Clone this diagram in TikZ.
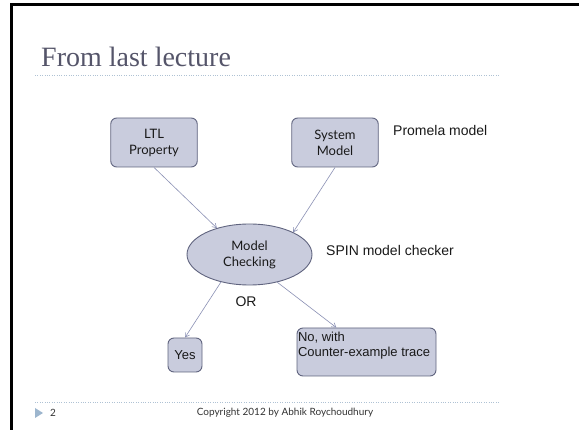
\documentclass[tikz,border=0pt]{standalone}
\usepackage{fontspec}
\setmainfont{Liberation Serif}
\newfontfamily\gill{Lato}
\newfontfamily\arial{Liberation Sans}
\usetikzlibrary{arrows.meta,shapes.geometric}
\definecolor{boxfill}{HTML}{C9CCDD}
\definecolor{boxline}{HTML}{60647F}
\definecolor{linkcol}{HTML}{8A90B4}
\definecolor{rulecol}{HTML}{AFC2D4}
\definecolor{titlecol}{HTML}{55556A}
\definecolor{markcol}{HTML}{9DB6CE}
\tikzset{
  box/.style={draw=boxline, fill=boxfill, line width=0.9pt, rounded corners=6pt,
    inner sep=0pt, align=center, font=\gill\fontsize{13}{16}\selectfont, text=black!90},
  oval/.style={ellipse, draw=boxline, fill=boxfill, line width=0.9pt, inner sep=0pt,
    align=center, font=\gill\fontsize{13}{16}\selectfont, text=black!90},
  note/.style={font=\arial\fontsize{14}{16}\selectfont, text=black!90, inner sep=0pt},
  link/.style={draw=linkcol, line width=0.6pt, -{Straight Barb[length=4pt,width=5pt]}},
  dotrule/.style={draw=rulecol, line width=0.5pt, dash pattern=on 1pt off 1.4pt},
}
\begin{document}
\begin{tikzpicture}[x=1pt,y=-1pt]
\useasboundingbox (0,0) rectangle (579,430);
\fill[white] (0,0) rectangle (579,430);
% slide frame
\draw[black, line width=3pt] (11,430) -- (11,5) -- (579,5);
% title and rules
\node[anchor=base west, inner sep=0pt, text=titlecol, font=\fontsize{28}{30}\selectfont] (title) at (41,67) {From last lecture};
\draw[dotrule] (35,75) -- (500,75);
\draw[dotrule] (35,402) -- (500,402);
% diagram
\node[box, minimum width=86.5pt, minimum height=49pt] (ltl) at (154,142.5) {LTL\\Property};
\node[box, minimum width=86.5pt, minimum height=49pt] (sys) at (335,142.5) {System\\Model};
\node[note, anchor=west] (prom) at (393,130) {Promela model};
\node[oval, minimum width=125pt, minimum height=61pt] (mc) at (249.5,254.5) {Model\\Checking};
\node[note, anchor=west] (spin) at (326,250) {SPIN model checker};
\node[note] (or) at (246,302) {OR};
\node[box, minimum width=34pt, minimum height=34pt, font=\arial\fontsize{13}{15}\selectfont] (yes) at (185,355) {Yes};
\node[box, minimum width=139pt, minimum height=48pt, align=left, inner sep=0pt, font=\arial\fontsize{13}{15}\selectfont] (no) at (366.5,352)
  {\parbox[c][46pt][t]{137pt}{\vspace*{3pt}No, with\\Counter-example trace}};
\draw[link] (ltl.south) -- (mc.141);
\draw[link] (sys.south) -- (mc.27);
\draw[link] (mc.224) -- (yes.north);
\draw[link] (mc.315) -- (no.141);
% footer
\fill[markcol] (35,408) -- (43,413) -- (35,418) -- cycle;
\node[anchor=west, inner sep=0pt, font=\gill\fontsize{10}{12}\selectfont, text=black!80] (pg) at (50,413) {2};
\node[inner sep=0pt, font=\gill\fontsize{10}{12}\selectfont, text=black!80] (copy) at (285,413) {Copyright 2012 by Abhik Roychoudhury};
\end{tikzpicture}
\end{document}
